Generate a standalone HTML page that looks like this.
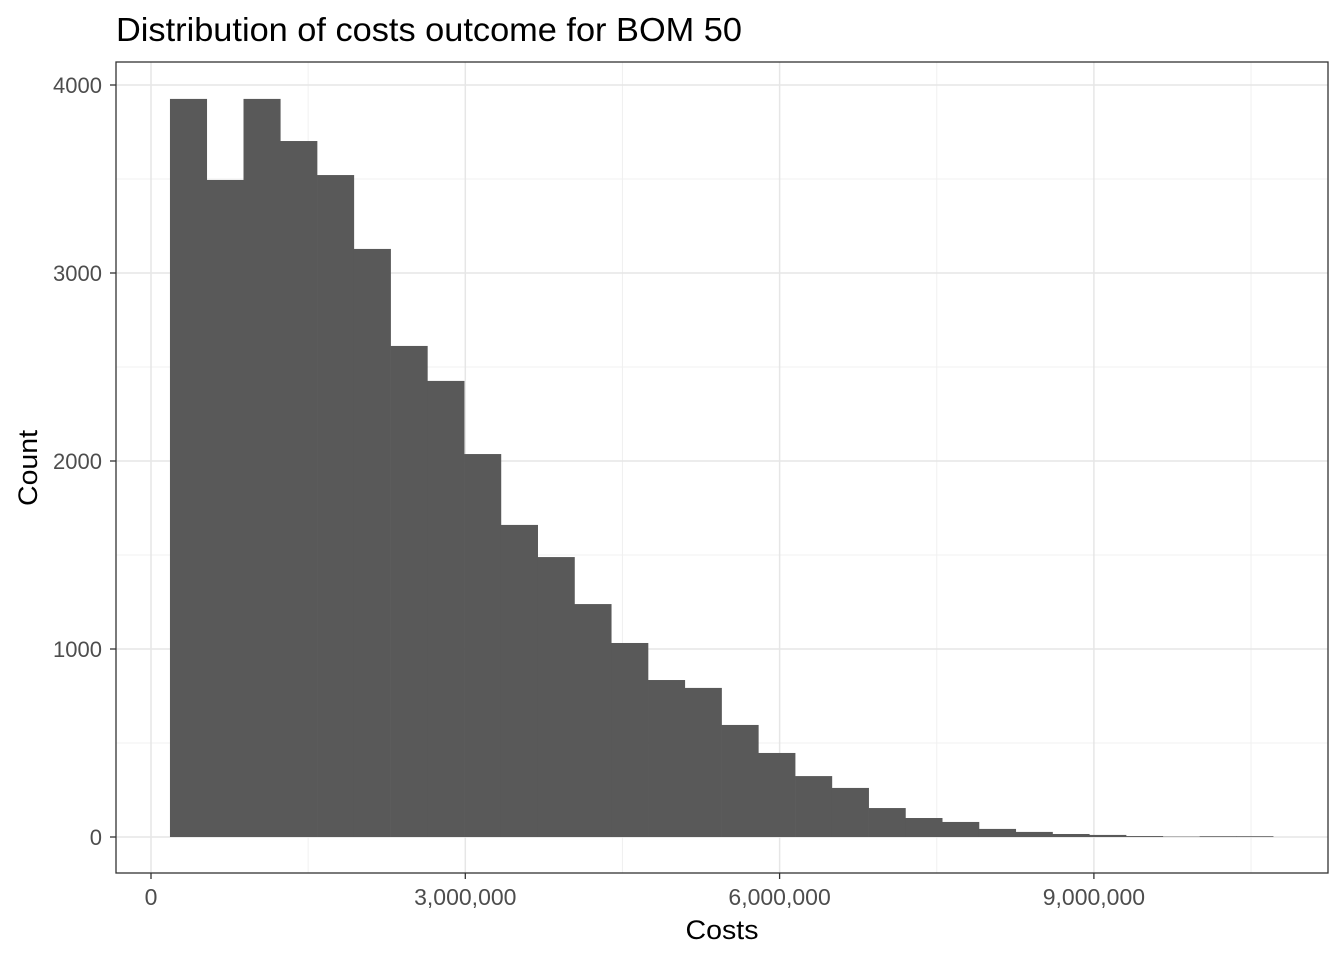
<!DOCTYPE html>
<html><head><meta charset="utf-8"><style>
body{margin:0;background:#fff;font-family:"Liberation Sans",sans-serif}
</style></head><body>
<svg id="c" width="1344" height="960" xmlns="http://www.w3.org/2000/svg">
<rect width="1344" height="960" fill="#fff"/>
<text x="116" y="41" font-size="33" textLength="626" lengthAdjust="spacingAndGlyphs" fill="#000">Distribution of costs outcome for BOM 50</text>
<g id="grid"></g><g id="bars"></g><g id="axes"></g>
<rect x="116" y="62" width="1212" height="811" fill="none" stroke="#333" stroke-width="1.3"/>
<text x="722" y="939" font-size="27" textLength="73" lengthAdjust="spacingAndGlyphs" text-anchor="middle">Costs</text>
<text transform="translate(37,468) rotate(-90)" font-size="27" textLength="76" lengthAdjust="spacingAndGlyphs" text-anchor="middle">Count</text>
</svg>
<script>
const binStart = 181000;
const binWidth = 351000;
const counts = [3926,3495,3926,3702,3521,3128,2612,2426,2037,1660,1489,1239,1032,835,793,596,447,324,261,154,101,80,43,27,16,11,5,2,4,4];
const yTicks = [0,1000,2000,3000,4000];
const yMinor = [500,1500,2500,3500];
const xTicks = [0,3000000,6000000,9000000];
const xTickLabels = ["0","3,000,000","6,000,000","9,000,000"];
const xMinor = [1500000,4500000,7500000,10500000];
const NS="http://www.w3.org/2000/svg";
const X=v=>151+v*(314.3/3000000);
const Y=v=>837-v*0.188;
function mk(t,a,p){const e=document.createElementNS(NS,t);for(const k in a)e.setAttribute(k,a[k]);p.appendChild(e);return e;}
const g=document.getElementById('grid'),b=document.getElementById('bars'),ax=document.getElementById('axes');
yMinor.forEach(v=>{const l=mk('line',{x1:116,x2:1328,y1:Y(v),y2:Y(v),stroke:'#f0f0f0','stroke-width':1},g);

});
xMinor.forEach(v=>{const l=mk('line',{x1:X(v),x2:X(v),y1:62,y2:873,stroke:'#f0f0f0','stroke-width':1},g);

});
yTicks.forEach(v=>{const l=mk('line',{x1:116,x2:1328,y1:Y(v),y2:Y(v),stroke:'#e6e6e6','stroke-width':1.5},g);


const t=mk('line',{x1:110,x2:116,y1:Y(v),y2:Y(v),stroke:'#333','stroke-width':1.3},ax);


const s=mk('text',{x:102,y:Y(v)+8,'font-size':22,fill:'#4d4d4d','text-anchor':'end'},ax);s.textContent=v;

});
xTicks.forEach((v,i)=>{const l=mk('line',{x1:X(v),x2:X(v),y1:62,y2:873,stroke:'#e6e6e6','stroke-width':1.5},g);


const t=mk('line',{x1:X(v),x2:X(v),y1:873,y2:879,stroke:'#333','stroke-width':1.3},ax);


const s=mk('text',{x:X(v),y:905,'font-size':23,fill:'#4d4d4d','text-anchor':'middle'},ax);s.textContent=xTickLabels[i];

});
counts.forEach((c,i)=>{const x0=X(binStart+i*binWidth),x1=X(binStart+(i+1)*binWidth);
const r=mk('rect',{x:x0,y:Y(c),width:x1-x0+0.3,height:Y(0)-Y(c),fill:'#595959'},b);

});
</script>
</body></html>
